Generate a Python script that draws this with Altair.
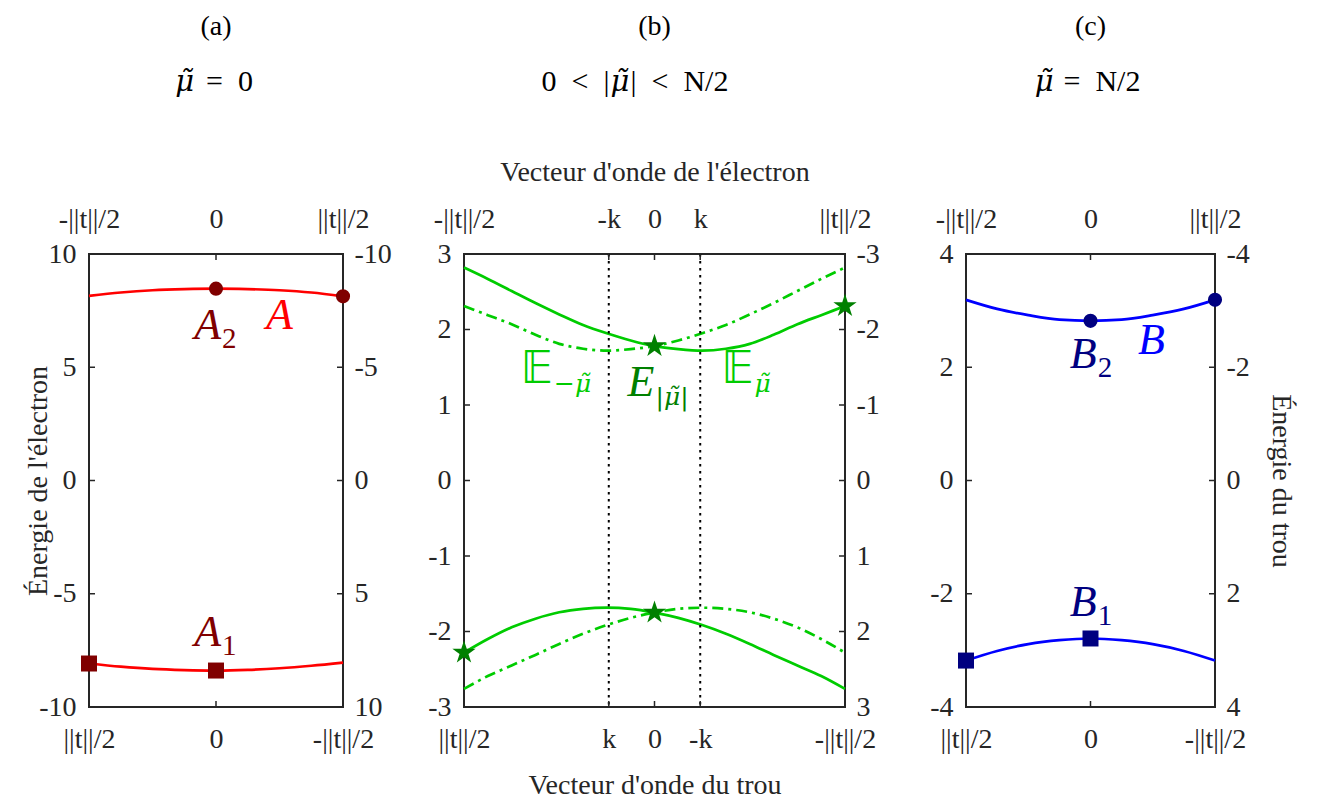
import altair as alt
import pandas as pd

# ---------------- data ----------------
PANEL_TAGS = ["(a)", "(b)", "(c)"]
MU = "μ̃"
# heading pieces: (text, is_math, align, dx from panel centre)
CASE_A = [(MU, True, "right", -22), ("=\u20020", False, "left", -10)]
CASE_B = [("0\u2002<\u2002|", False, "right", -45), (MU, True, "left", -44),
          ("|\u2002<\u2002N/2", False, "left", -24)]
CASE_C = [(MU, True, "right", -37), ("=\u2002N/2", False, "left", -27)]

K = 0.24  # position of the wave-vector k (in units of ||t||/2)

# panel (a)
X9 = [-1.0, -0.75, -0.5, -0.25, 0.0, 0.25, 0.5, 0.75, 1.0]
A_UPPER = [8.15, 8.30, 8.40, 8.45, 8.47, 8.45, 8.40, 8.30, 8.13]
A_LOWER = [-8.08, -8.22, -8.32, -8.37, -8.39, -8.36, -8.29, -8.18, -8.04]
A_CIRC_X = [0.0, 1.0]
A_CIRC_Y = [8.47, 8.13]
A_SQ_X = [-1.0, 0.0]
A_SQ_Y = [-8.08, -8.39]

# panel (b)
X17 = [-1.0, -0.875, -0.75, -0.625, -0.5, -0.375, -0.25, -0.125, 0.0,
       0.125, 0.25, 0.375, 0.5, 0.625, 0.75, 0.875, 1.0]
E_UP_SOLID = [2.82, 2.67, 2.51, 2.35, 2.20, 2.06, 1.95, 1.855, 1.78,
              1.74, 1.72, 1.745, 1.81, 1.93, 2.07, 2.19, 2.31]
E_UP_DASH = [2.31, 2.19, 2.07, 1.93, 1.81, 1.745, 1.72, 1.74, 1.78,
             1.855, 1.95, 2.06, 2.20, 2.35, 2.51, 2.67, 2.82]
E_LO_SOLID = [-2.28, -2.10, -1.945, -1.83, -1.745, -1.70, -1.685, -1.70, -1.75,
              -1.82, -1.915, -2.03, -2.165, -2.31, -2.45, -2.59, -2.76]
E_LO_DASH = [-2.76, -2.59, -2.45, -2.31, -2.165, -2.03, -1.915, -1.82, -1.75,
             -1.70, -1.685, -1.70, -1.745, -1.83, -1.945, -2.10, -2.28]
STAR_X = [0.0, 1.0, -1.0, 0.0]
STAR_Y = [1.78, 2.31, -2.28, -1.75]

# panel (c)
B_UPPER = [3.19, 3.03, 2.92, 2.84, 2.82, 2.84, 2.92, 3.03, 3.19]
B_LOWER = [-3.18, -3.01, -2.89, -2.82, -2.79, -2.82, -2.89, -3.01, -3.18]
B_CIRC_X = [0.0, 1.0]
B_CIRC_Y = [2.82, 3.19]
B_SQ_X = [-1.0, 0.0]
B_SQ_Y = [-3.18, -2.79]

# ticks
YT_A = [-10, -5, 0, 5, 10]
YT_B = [-3, -2, -1, 0, 1, 2, 3]
YT_C = [-4, -2, 0, 2, 4]
XT_AC = [-1, 0, 1]
XT_B = [-1, -K, 0, K, 1]

# annotations (main letter, subscript, anchor x, baseline y)
LAB_A_MAIN = ["A", "A"]
LAB_A_SUB = ["2", "1"]
LAB_A_X = [0.04, 0.04]
LAB_A_Y = [6.25, -7.31]
LAB_A_BAND = ["A"]
LAB_A_BAND_X = [0.5]
LAB_A_BAND_Y = [6.69]

LAB_BB_MAIN = ["𝔼", "𝔼"]
LAB_BB_SUB = ["−μ̃", "μ̃"]
LAB_BB_X = [-0.533, 0.52]
LAB_BB_Y = [1.29, 1.29]
LAB_BE_MAIN = ["E"]
LAB_BE_SUB = ["|μ̃|"]
LAB_BE_X = [0.0]
LAB_BE_Y = [1.12]

LAB_C_MAIN = ["B", "B"]
LAB_C_SUB = ["2", "1"]
LAB_C_X = [0.05, 0.05]
LAB_C_Y = [1.99, -2.40]
LAB_C_BAND = ["B"]
LAB_C_BAND_X = [0.49]
LAB_C_BAND_Y = [2.23]

# ---------------- styling ----------------
FONT = "Liberation Serif"
MATHFONT = "DejaVu Serif"
AXC = "#262626"
RED, DRED = "#ff0000", "#800000"
GREEN, DGREEN = "#00cc00", "#008000"
BLUE, NAVY = "#0000ff", "#000080"
STAR = ("M0,-1L0.2245,-0.309L0.951,-0.309L0.363,0.118L0.588,0.809L0,0.382"
        "L-0.588,0.809L-0.363,0.118L-0.951,-0.309L-0.2245,-0.309Z")

TOP_EXPR = ("datum.value < -0.5 ? '-||t||/2' : datum.value > 0.5 ? '||t||/2' : "
            "datum.value < 0 ? '-k' : datum.value > 0 ? 'k' : '0'")
BOT_EXPR = ("datum.value < -0.5 ? '||t||/2' : datum.value > 0.5 ? '-||t||/2' : "
            "datum.value < 0 ? 'k' : datum.value > 0 ? '-k' : '0'")
LEFT_EXPR = "'' + datum.value"
RIGHT_EXPR = "'' + (-datum.value)"


def axis(**kw):
    base = dict(grid=False, ticks=False, tickSize=0, domain=False,
                labelFont=FONT, labelFontSize=28, labelColor=AXC,
                labelOverlap=False, labelFlush=False, labelBound=False,
                titleFont=FONT, titleFontSize=28, titleColor=AXC,
                titleFontWeight="normal")
    base.update(kw)
    return alt.Axis(**base)


def panel(W, H, ydom, yt, xt, tag, case, lines, points, texts,
          left_title=None, right_title=None, top_title=None, bottom_title=None,
          extra=None):
    xs = alt.Scale(domain=[-1, 1], nice=False, zero=False)
    ys = alt.Scale(domain=ydom, nice=False, zero=False)

    bkw = dict(orient="bottom", values=xt, labelExpr=BOT_EXPR,
               labelPadding=40, labelBaseline="alphabetic")
    if bottom_title:
        bkw.update(title=bottom_title, titleY=86, titleBaseline="alphabetic")
    else:
        bkw.update(title=None)
    lkw = dict(orient="left", values=yt, labelExpr=LEFT_EXPR, labelPadding=13)
    if left_title:
        lkw.update(title=left_title, titleX=-43, titleAngle=270,
                   titleBaseline="alphabetic")
    else:
        lkw.update(title=None)
    tkw = dict(orient="top", values=xt, labelExpr=TOP_EXPR,
               labelPadding=27, labelBaseline="alphabetic")
    if top_title:
        tkw.update(title=top_title, titleY=-74, titleBaseline="alphabetic")
    else:
        tkw.update(title=None)
    rkw = dict(orient="right", values=yt, labelExpr=RIGHT_EXPR, labelPadding=11)
    if right_title:
        rkw.update(title=right_title, titleX=57, titleAngle=90,
                   titleBaseline="alphabetic")
    else:
        rkw.update(title=None)

    def xenc(f):
        return alt.X(f, scale=xs, axis=None)

    def yenc(f):
        return alt.Y(f, scale=ys, axis=None)

    layers = []
    for xv, yv, col, dash in lines:
        df = pd.DataFrame({"x": xv, "y": yv})
        mk = dict(color=col, strokeWidth=2.7, interpolate="monotone")
        if dash:
            mk["strokeDash"] = dash
        layers.append(alt.Chart(df).mark_line(**mk).encode(
            x=xenc("x:Q"), y=yenc("y:Q")))

    if extra:
        for ev in extra:
            layers.append(alt.Chart(pd.DataFrame({"v": ev})).mark_rule(
                color="black", strokeWidth=2, strokeDash=[2.5, 4.5]).encode(
                x=xenc("v:Q")))

    # inward tick marks
    ydf = pd.DataFrame({"v": yt})
    xdf = pd.DataFrame({"v": xt})
    layers.append(alt.Chart(ydf).mark_rule(color=AXC, strokeWidth=1.5).encode(
        y=yenc("v:Q"), x=alt.value(0), x2=alt.value(6)))
    layers.append(alt.Chart(ydf).mark_rule(color=AXC, strokeWidth=1.5).encode(
        y=yenc("v:Q"), x=alt.value(W), x2=alt.value(W - 6)))
    layers.append(alt.Chart(xdf).mark_rule(color=AXC, strokeWidth=1.5).encode(
        x=xenc("v:Q"), y=alt.value(0), y2=alt.value(6)))
    layers.append(alt.Chart(xdf).mark_rule(color=AXC, strokeWidth=1.5).encode(
        x=xenc("v:Q"), y=alt.value(H), y2=alt.value(H - 6)))

    for xv, yv, shape, size, col in points:
        df = pd.DataFrame({"x": xv, "y": yv})
        layers.append(alt.Chart(df).mark_point(
            shape=shape, size=size, filled=True, color=col, opacity=1,
            strokeWidth=0).encode(x=xenc("x:Q"), y=yenc("y:Q")))

    for t in texts:
        df = pd.DataFrame({"x": t["x"], "y": t["y"], "m": t["main"]})
        layers.append(alt.Chart(df).mark_text(
            font=t.get("font", FONT), fontStyle=t.get("style", "italic"),
            fontSize=t.get("size", 44), color=t["color"],
            align=t.get("align", "right"), baseline="alphabetic").encode(
            x=xenc("x:Q"), y=yenc("y:Q"), text="m:N"))
        if "sub" in t:
            df2 = pd.DataFrame({"x": t["x"], "y": t["y"], "s": t["sub"]})
            layers.append(alt.Chart(df2).mark_text(
                font=t.get("subfont", FONT), fontStyle=t.get("substyle", "normal"),
                fontSize=t.get("subsize", 29), color=t["color"], align="left",
                baseline="alphabetic", dx=1, dy=9).encode(
                x=xenc("x:Q"), y=yenc("y:Q"), text="s:N"))

    # panel headings
    layers.append(alt.Chart(pd.DataFrame({"t": [tag]})).mark_text(
        font=FONT, fontSize=28, color="black", align="center",
        baseline="alphabetic").encode(
        text="t:N", x=alt.value(W / 2), y=alt.value(-219)))
    for txt, is_math, al, dx in case:
        layers.append(alt.Chart(pd.DataFrame({"t": [txt]})).mark_text(
            font=MATHFONT if is_math else FONT,
            fontStyle="italic" if is_math else "normal",
            fontSize=29 if is_math else 30, color="black", align=al,
            baseline="alphabetic", dx=dx).encode(
            text="t:N", x=alt.value(W / 2), y=alt.value(-163)))

    inner = alt.layer(*layers)
    ax_df = pd.DataFrame({"x": [-1, 1], "y": ydom})
    axes_bl = alt.Chart(ax_df).mark_point(opacity=0).encode(
        x=alt.X("x:Q", scale=xs, axis=axis(**bkw)),
        y=alt.Y("y:Q", scale=ys, axis=axis(**lkw)))
    axes_tr = alt.Chart(ax_df).mark_point(opacity=0).encode(
        x=alt.X("x:Q", scale=xs, axis=axis(**tkw)),
        y=alt.Y("y:Q", scale=ys, axis=axis(**rkw)))
    return alt.layer(inner, axes_bl, axes_tr).resolve_scale(
        x="independent", y="independent").properties(width=W, height=H)


H = 453
pa = panel(
    254, H, [-10, 10], YT_A, XT_AC, PANEL_TAGS[0], CASE_A,
    lines=[(X9, A_UPPER, RED, None), (X9, A_LOWER, RED, None)],
    points=[(A_CIRC_X, A_CIRC_Y, "circle", 200, DRED),
            (A_SQ_X, A_SQ_Y, "square", 256, DRED)],
    texts=[dict(x=LAB_A_X, y=LAB_A_Y, main=LAB_A_MAIN, sub=LAB_A_SUB, color=DRED),
           dict(x=LAB_A_BAND_X, y=LAB_A_BAND_Y, main=LAB_A_BAND, color=RED,
                align="center")],
    left_title="Énergie de l'électron")

pb = panel(
    381, H, [-3, 3], YT_B, XT_B, PANEL_TAGS[1], CASE_B,
    lines=[(X17, E_UP_SOLID, GREEN, None), (X17, E_UP_DASH, GREEN, [11, 5, 3, 5]),
           (X17, E_LO_SOLID, GREEN, None), (X17, E_LO_DASH, GREEN, [11, 5, 3, 5])],
    points=[(STAR_X, STAR_Y, STAR, 600, DGREEN)],
    texts=[dict(x=LAB_BB_X, y=LAB_BB_Y, main=LAB_BB_MAIN, sub=LAB_BB_SUB,
                color=GREEN, font="DejaVu Sans", style="normal",
                subfont=MATHFONT, substyle="italic", subsize=25),
           dict(x=LAB_BE_X, y=LAB_BE_Y, main=LAB_BE_MAIN, sub=LAB_BE_SUB,
                color=DGREEN, subfont=MATHFONT, substyle="italic", subsize=25)],
    top_title="Vecteur d'onde de l'électron",
    bottom_title="Vecteur d'onde du trou",
    extra=[[-K, K]])

pc = panel(
    249, H, [-4, 4], YT_C, XT_AC, PANEL_TAGS[2], CASE_C,
    lines=[(X9, B_UPPER, BLUE, None), (X9, B_LOWER, BLUE, None)],
    points=[(B_CIRC_X, B_CIRC_Y, "circle", 200, NAVY),
            (B_SQ_X, B_SQ_Y, "square", 256, NAVY)],
    texts=[dict(x=LAB_C_X, y=LAB_C_Y, main=LAB_C_MAIN, sub=LAB_C_SUB, color=NAVY),
           dict(x=LAB_C_BAND_X, y=LAB_C_BAND_Y, main=LAB_C_BAND, color=BLUE,
                align="center")],
    right_title="Énergie du trou")

chart = alt.hconcat(pa, pb, pc, spacing=121, bounds="flush").properties(
    padding={"left": 15, "top": 4, "right": 5, "bottom": 5},
    background="white",
).configure_view(stroke=AXC, strokeWidth=2)

chart.save("out.html", embed_options={"renderer": "svg", "actions": False})
